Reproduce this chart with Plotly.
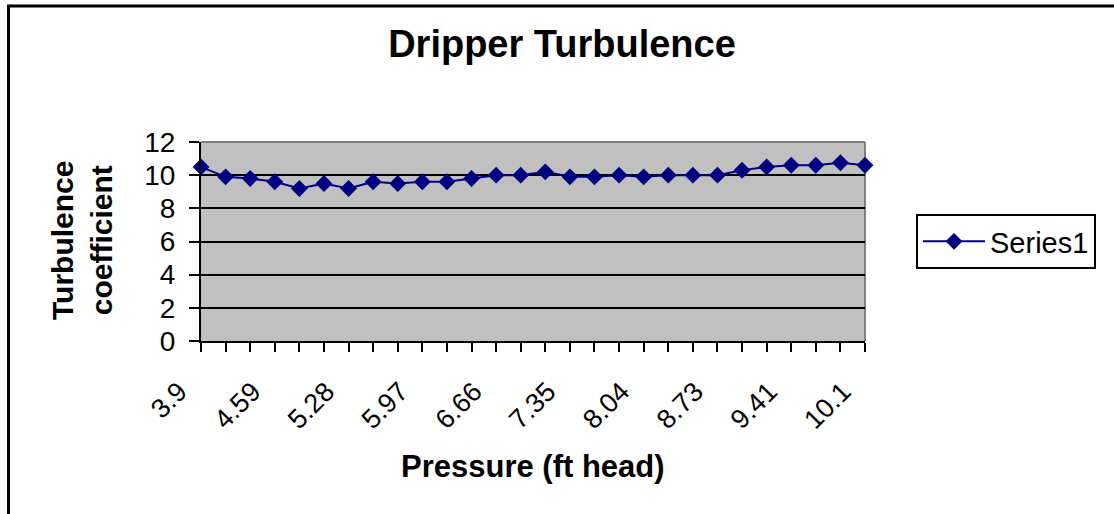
import plotly.graph_objects as go

# Data
pressure = ["3.9", "4.13", "4.36", "4.59", "4.82", "5.05", "5.28", "5.51", "5.74",
            "5.97", "6.2", "6.43", "6.66", "6.89", "7.12", "7.35", "7.58", "7.81",
            "8.04", "8.27", "8.5", "8.73", "8.96", "9.18", "9.41", "9.64", "9.87", "10.1"]
turbulence = [10.5, 9.9, 9.8, 9.6, 9.2, 9.5, 9.2, 9.6, 9.5, 9.6, 9.6, 9.8, 10.0, 10.0,
              10.2, 9.9, 9.9, 10.0, 9.9, 10.0, 10.0, 10.0, 10.3, 10.5, 10.6, 10.6, 10.75, 10.6]
x_tick_text = ["3.9", "", "", "4.59", "", "", "5.28", "", "", "5.97", "", "", "6.66", "", "",
               "7.35", "", "", "8.04", "", "", "8.73", "", "", "9.41", "", "", "10.1"]
y_ticks = [0, 2, 4, 6, 8, 10, 12]

FONT = "Arial, Liberation Sans, sans-serif"
NAVY = "#000080"

W, H = 1114, 514
L, R, T, B = 201, 249, 142, 173
PW, PH = W - L - R, H - T - B


def px_x(p):
    return (p - L) / PW


def px_y(p):
    return (H - B - p) / PH


fig = go.Figure()
fig.add_trace(go.Scatter(
    x=pressure, y=turbulence, mode="lines+markers", name="Series1",
    line=dict(color=NAVY, width=2),
    marker=dict(symbol="diamond", size=13, color=NAVY),
    cliponaxis=False,
))

fig.update_layout(
    width=W, height=H, autosize=False,
    margin=dict(l=L, r=R, t=T, b=B),
    paper_bgcolor="white", plot_bgcolor="#C0C0C0",
    font=dict(family=FONT, color="black"),
    title=dict(text="Dripper Turbulence", x=562 / W, xanchor="center",
               y=1 - 44 / H, yanchor="middle",
               font=dict(family=FONT, size=38, weight="bold", color="black")),
    showlegend=True,
    legend=dict(x=px_x(916), y=px_y(214), xanchor="left", yanchor="top",
                bgcolor="white", bordercolor="black", borderwidth=2,
                font=dict(family=FONT, size=29, color="black"),
                itemwidth=62),
    xaxis=dict(type="category", categoryorder="array", categoryarray=pressure,
               range=[0, len(pressure) - 1],
               tickmode="array", tickvals=pressure, ticktext=x_tick_text,
               tickangle=-45, ticks="outside", ticklen=9, tickwidth=2, tickcolor="black",
               tickfont=dict(family=FONT, size=27, color="black"),
               ticklabelstandoff=13, ticklabelshift=-22,
               showline=True, linecolor="black", linewidth=2,
               showgrid=False, zeroline=False, fixedrange=True),
    yaxis=dict(range=[0, 12], tickmode="array", tickvals=y_ticks,
               ticks="outside", ticklen=10, tickwidth=2, tickcolor="black",
               tickfont=dict(family=FONT, size=28, color="black"),
               ticklabelstandoff=8,
               showline=True, linecolor="black", linewidth=2,
               showgrid=True, gridcolor="black", gridwidth=2,
               zeroline=False, fixedrange=True),
    annotations=[
        dict(text="<b>Turbulence<br>coefficient</b>", textangle=-90,
             xref="paper", yref="paper", x=px_x(82), y=px_y(241),
             xanchor="center", yanchor="middle", showarrow=False,
             font=dict(family=FONT, size=30, color="black")),
        dict(text="<b>Pressure (ft head)</b>",
             xref="paper", yref="paper", x=px_x(533), y=px_y(466),
             xanchor="center", yanchor="middle", showarrow=False,
             font=dict(family=FONT, size=31, color="black")),
    ],
    shapes=[
        # plot area border (top and right, grey)
        dict(type="line", xref="paper", yref="paper", x0=0, x1=1, y0=1, y1=1,
             line=dict(color="#808080", width=2), layer="above"),
        dict(type="line", xref="paper", yref="paper", x0=1, x1=1, y0=0, y1=1,
             line=dict(color="#808080", width=2), layer="below"),
        # chart frame
        dict(type="rect", xref="paper", yref="paper",
             x0=px_x(8.5), x1=px_x(1125), y0=px_y(525), y1=px_y(6),
             line=dict(color="black", width=3), fillcolor="rgba(0,0,0,0)", layer="above"),
    ],
)

fig.write_html("out.html", config={"displayModeBar": False},
               post_script="document.body.style.margin='0';")
